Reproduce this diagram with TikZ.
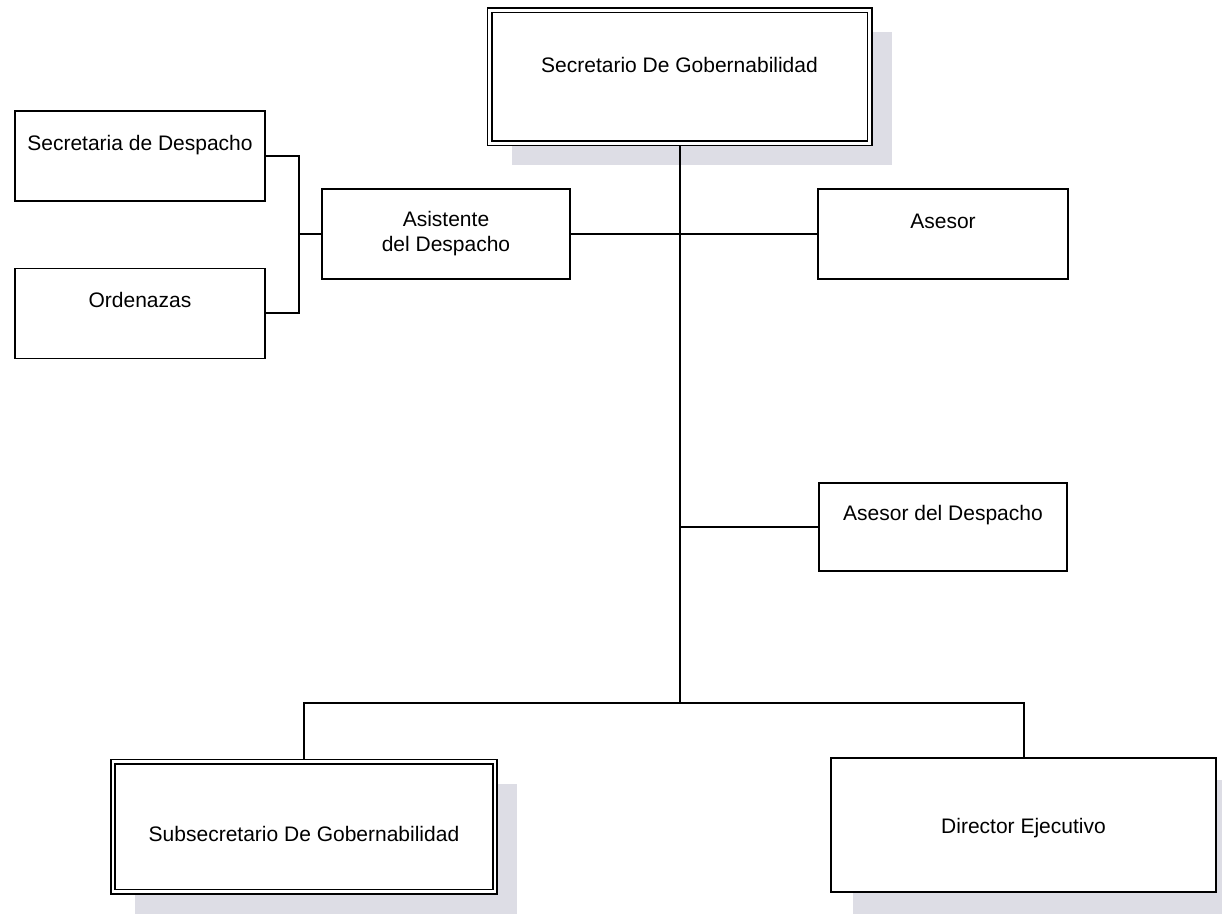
\documentclass[tikz,border=0pt]{standalone}
\usepackage{fontspec}
\setmainfont{Liberation Sans}
\usetikzlibrary{shadows}
\definecolor{shadowc}{RGB}{221,221,229}
\begin{document}
\begin{tikzpicture}[x=0.5pt, y=-0.5pt,
  font=\fontsize{10.5}{12.5}\selectfont,
  box/.style={draw, line width=0.9pt, fill=white, rectangle, inner sep=2pt, align=center},
  smallbox/.style={box, minimum width=125pt, minimum height=45pt, text height=8pt, text depth=13.5pt},
  dbox/.style={box, double, double distance=1.2pt, outer sep=1.5pt},
  shad/.style={drop shadow={fill=shadowc, opacity=1, shadow xshift=11pt, shadow yshift=-11pt}},
  link/.style={line width=1pt}]
\useasboundingbox (0,0) rectangle (1222,914);
\fill[white] (0,0) rectangle (1222,914);

\node[dbox, shad, minimum width=190pt, minimum height=66.5pt, text height=8pt, text depth=12.5pt] (sec) at (679.5,77) {Secretario De Gobernabilidad};
\node[smallbox] (sd) at (140,156) {Secretaria de Despacho};
\node[smallbox] (ord) at (140,313.5) {Ordenazas};
\node[box, minimum width=124pt, minimum height=45pt] (asis) at (446,234) {Asistente\\del Despacho};
\node[smallbox] (ase) at (943,234) {Asesor};
\node[smallbox, minimum width=124pt, minimum height=44pt, text depth=14.5pt] (ad) at (943,527) {Asesor del Despacho};
\node[dbox, shad, minimum width=190.75pt, minimum height=65pt, text height=22.5pt, text depth=8pt] (sub) at (304,826.5) {Subsecretario De Gobernabilidad};
\node[box, shad, minimum width=192.5pt, minimum height=67pt, text height=16.5pt, text depth=8pt] (dir) at (1023.5,825) {Director Ejecutivo};

\coordinate (j) at (299,234);
\coordinate (bus) at (679.5,703);
\draw[link] (sd.east) -| (j) |- (ord.east);
\draw[link] (j) -- (asis.west);
\draw[link] (asis.east) -- (ase.west);
\draw[link] (sec.south) -- (bus);
\draw[link] (ad.west) -- (ad.west -| bus);
\draw[link] (sub.north) |- (bus) -| (dir.north);
\end{tikzpicture}
\end{document}
